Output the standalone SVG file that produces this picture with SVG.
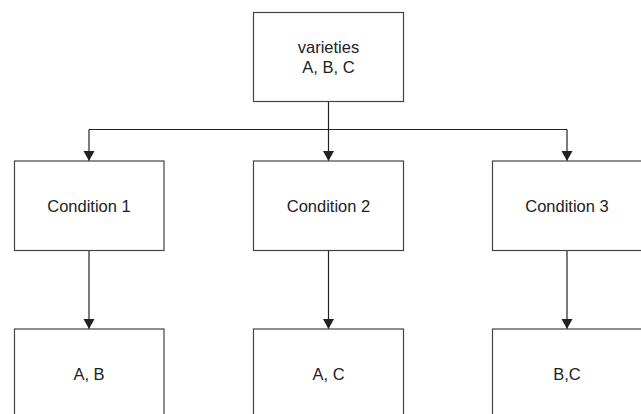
<svg xmlns="http://www.w3.org/2000/svg" width="641" height="414" viewBox="0 0 641 414">
<style>
.box{fill:#fff;stroke:#444;stroke-width:1.2}
.lbl{font-family:"Liberation Sans",Arial,sans-serif;font-size:16.5px;fill:#222;text-anchor:middle}
.conn{fill:none;stroke:#222;stroke-width:1.2}
</style>
<defs>
<marker id="ah" markerUnits="userSpaceOnUse" markerWidth="12" markerHeight="12" viewBox="0 0 12 12" refX="6" refY="11" orient="auto-start-reverse">
<path d="M0.5,1 L11.5,1 L6,11 Z" fill="#222" transform="rotate(-90 6 6)"/>
</marker>
<marker id="ad" markerUnits="userSpaceOnUse" markerWidth="12" markerHeight="12" viewBox="0 0 12 12" refX="11" refY="6" orient="auto">
<path d="M1,0.5 L11,6 L1,11.5 Z" fill="#222"/>
</marker>
</defs>
<rect width="641" height="414" fill="#fff"/>
<g id="connectors">
<path class="conn" d="M328.5,101.5 V129.5"/>
<path class="conn" d="M89,129.5 H567"/>
<path class="conn" d="M89,129.5 V161" marker-end="url(#ad)"/>
<path class="conn" d="M328.5,129.5 V161" marker-end="url(#ad)"/>
<path class="conn" d="M567,129.5 V161" marker-end="url(#ad)"/>
<path class="conn" d="M89,250.5 V329" marker-end="url(#ad)"/>
<path class="conn" d="M328.5,250.5 V329" marker-end="url(#ad)"/>
<path class="conn" d="M567,250.5 V329" marker-end="url(#ad)"/>
</g>
<g id="varieties">
<rect class="box" x="253.5" y="12.5" width="150" height="89"/>
<text class="lbl" x="328.5" y="52.5">varieties</text>
<text class="lbl" x="328.5" y="72.5">A, B, C</text>
</g>
<g id="condition1">
<rect class="box" x="14.5" y="161" width="149.5" height="89.5"/>
<text class="lbl" x="89" y="211.5">Condition 1</text>
</g>
<g id="condition2">
<rect class="box" x="253.5" y="161" width="150" height="89.5"/>
<text class="lbl" x="328.5" y="211.5">Condition 2</text>
</g>
<g id="condition3">
<rect class="box" x="492.5" y="161" width="150" height="89.5"/>
<text class="lbl" x="567" y="211.5">Condition 3</text>
</g>
<g id="result1">
<rect class="box" x="14.5" y="329" width="149.5" height="89.5"/>
<text class="lbl" x="89" y="379.5">A, B</text>
</g>
<g id="result2">
<rect class="box" x="253.5" y="329" width="150" height="89.5"/>
<text class="lbl" x="328.5" y="379.5">A, C</text>
</g>
<g id="result3">
<rect class="box" x="492.5" y="329" width="150" height="89.5"/>
<text class="lbl" x="567" y="379.5">B,C</text>
</g>
</svg>
